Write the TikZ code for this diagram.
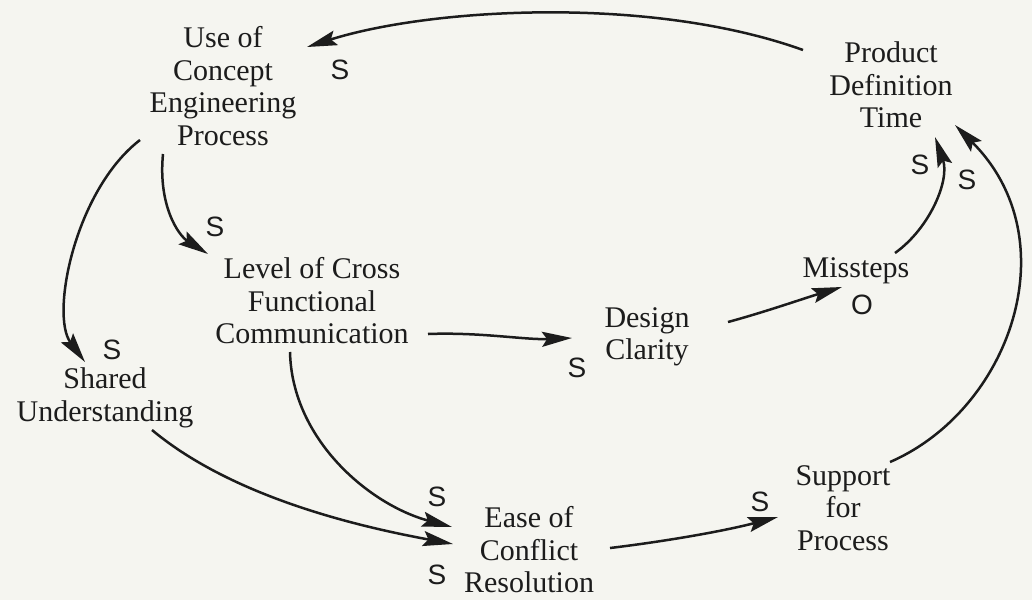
\documentclass[tikz,border=0pt]{standalone}
\usepackage{fontspec}
\setmainfont{Liberation Serif}
\newfontfamily\lblfont{Liberation Sans}
\usetikzlibrary{arrows.meta}
\definecolor{bg}{RGB}{245,245,240}
\definecolor{ink}{RGB}{28,28,28}
\begin{document}
\begin{tikzpicture}[x=1pt,y=-1pt,
  var/.style={align=center,inner sep=0pt,text=ink,font=\fontsize{30}{32.5}\selectfont},
  pol/.style={inner sep=0pt,text=ink,font=\lblfont\fontsize{28}{30}\selectfont},
  link/.style={draw=ink,line width=2.5pt,-{Stealth[length=30pt,width=15pt,inset=5pt]}}]
\fill[bg] (0,0) rectangle (1032,600);
\useasboundingbox (0,0) rectangle (1032,600);
% variables
\node[var] (U) at (223,86) {Use of\\Concept\\Engineering\\Process};
\node[var] (P) at (891,85) {Product\\Definition\\Time};
\node[var] (L) at (312,301) {Level of Cross\\Functional\\Communication};
\node[var] (D) at (647,337) {Design\\Clarity};
\node[var] (M) at (856,271) {Missteps};
\node[var] (Sh) at (105,398) {Shared\\Understanding};
\node[var] (E) at (529,550) {Ease of\\Conflict\\Resolution};
\node[var] (Su) at (843,508) {Support\\for\\Process};
% polarity labels
\node[pol] (s1) at (340,70) {S};
\node[pol] (s2) at (215,227) {S};
\node[pol] (s3) at (112,350) {S};
\node[pol] (s4) at (437,497) {S};
\node[pol] (s5) at (437,575) {S};
\node[pol] (s6) at (577,368) {S};
\node[pol] (s7) at (760,502) {S};
\node[pol] (o1) at (862,305) {O};
\node[pol] (s8) at (920,165) {S};
\node[pol] (s9) at (967,180) {S};
% links
\draw[link] ([shift={(-88,-35)}]P.center) .. controls (650,-5) and (430,8) .. ([shift={(84,-39)}]U.center);
\draw[link] ([shift={(-60,68)}]U.center) .. controls (158,205) and (178,235) .. ([shift={(-104,-47)}]L.center);
\draw[link] ([shift={(-83,54)}]U.center) .. controls (75,190) and (50,315) .. ([shift={(-20,-36)}]Sh.center);
\draw[link] ([shift={(116,33)}]L.center) .. controls (480,332) and (525,340) .. ([shift={(-75,1)}]D.center);
\draw[link] ([shift={(81,-15)}]D.center) .. controls (765,312) and (805,298) .. ([shift={(-14,16)}]M.center);
\draw[link] ([shift={(39,-18)}]M.center) .. controls (930,228) and (950,180) .. ([shift={(44,52)}]P.center);
\draw[link] ([shift={(-22,51)}]L.center) .. controls (292,440) and (370,505) .. ([shift={(-77,-23)}]E.center);
\draw[link] ([shift={(47,32)}]Sh.center) .. controls (230,495) and (350,525) .. ([shift={(-76,-6)}]E.center);
\draw[link] ([shift={(81,-2)}]E.center) .. controls (660,542) and (720,532) .. ([shift={(-65,9)}]Su.center);
\draw[link] ([shift={(47,-46)}]Su.center) .. controls (1010,410) and (1070,240) .. ([shift={(64,40)}]P.center);
\end{tikzpicture}
\end{document}
